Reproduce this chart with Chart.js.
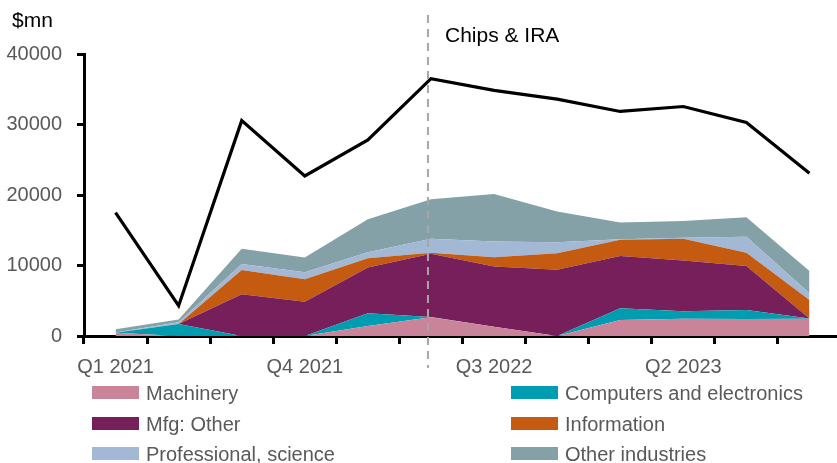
<!DOCTYPE html>
<html>
<head>
<meta charset="utf-8">
<script src="https://cdn.jsdelivr.net/npm/chart.js@4/dist/chart.umd.min.js"></script>
<style>
  html, body { margin: 0; padding: 0; background: #fff; overflow: hidden; }
  #wrap { position: relative; width: 837px; height: 463px; overflow: hidden; font-family: "Liberation Sans", Arial, sans-serif; }
  canvas { position: absolute; left: 0; top: 0; }
  .note { position: absolute; color: #000; white-space: nowrap; line-height: 1; }
  .leg { position: absolute; height: 13px; }
  .leg .box { position: absolute; left: 0; top: 0; width: 47px; height: 13px; }
  .leg .txt { position: absolute; left: 54px; top: 50%; transform: translateY(-50%); font-size: 20px; color: #595959; white-space: nowrap; line-height: 1; }
</style>
</head>
<body>
<div id="wrap">
  <canvas id="c" width="842" height="463"></canvas>
  <div class="note" id="unit" style="left:12px; top:9px; font-size:21px;">$mn</div>
  <div class="note" id="event" style="left:445px; top:24px; font-size:21px;">Chips &amp; IRA</div>
  <div id="legend"></div>
</div>
<script>
// ---- data ----
const quarters = ['Q1 2021','Q2 2021','Q3 2021','Q4 2021','Q1 2022','Q2 2022','Q3 2022','Q4 2022','Q1 2023','Q2 2023','Q3 2023','Q4 2023'];
const shownTickLabels = ['Q1 2021','Q4 2021','Q3 2022','Q2 2023'];

const seriesNames = ['Machinery','Computers and electronics','Mfg: Other','Information','Professional, science','Other industries'];
const machinery    = [450,    0,    0,    0, 1420, 2650, 1320,    0, 2270, 2450, 2400, 2450];
const computers    = [  0, 1700,    0,    0, 1800,   50,    0,    0, 1660, 1050, 1280,   50];
const mfgOther     = [  0,    0, 5920, 4870, 6480, 8950, 8530, 9380, 7430, 7200, 6250,    0];
const information  = [  0,    0, 3450, 3180, 1340,  150, 1330, 2370, 2280, 3100, 1890, 2600];
const professional = [ 50,  250,  860, 1000,  850, 2000, 2220, 1560,  100,  150, 2270,  950];
const otherInd     = [450,  400, 2130, 2070, 4680, 5580, 6730, 4350, 2370, 2350, 2760, 3170];
const totalLine    = [17500, 4300, 30550, 22700, 27800, 36500, 34850, 33600, 31850, 32550, 30300, 23100];

const eventQuarter = 'Q2 2022';
const yTicks = [0, 10000, 20000, 30000, 40000];

// ---- styles ----
const colors = ['#C9849A', '#009DB0', '#761F5B', '#C55A11', '#A2B8D5', '#84A1A7'];
const areaValues = [machinery, computers, mfgOther, information, professional, otherInd];

const datasets = [{
  label: 'Total',
  data: totalLine,
  borderColor: '#000',
  borderWidth: 3.2,
  pointRadius: 0,
  fill: false,
  tension: 0,
  stack: 'line',
  order: -1
}];
areaValues.forEach((vals, i) => {
  datasets.push({
    label: seriesNames[i],
    data: vals,
    backgroundColor: colors[i],
    borderColor: colors[i],
    borderWidth: 0,
    pointRadius: 0,
    tension: 0,
    fill: i === 0 ? 'origin' : '-1',
    stack: 'areas'
  });
});

const eventLine = {
  id: 'eventLine',
  afterDatasetsDraw(chart) {
    const x = chart.scales.x.getPixelForValue(quarters.indexOf(eventQuarter)) - 3;
    const ctx = chart.ctx;
    ctx.save();
    ctx.strokeStyle = '#A6A6A6';
    ctx.lineWidth = 2;
    ctx.setLineDash([8, 6]);
    ctx.beginPath();
    ctx.moveTo(x, 15);
    ctx.lineTo(x, 368);
    ctx.stroke();
    ctx.restore();
  }
};

new Chart(document.getElementById('c'), {
  type: 'line',
  data: { labels: quarters, datasets },
  plugins: [eventLine],
  options: {
    responsive: false,
    animation: false,
    layout: { padding: { top: 54, right: 1, bottom: 0, left: 0 } },
    plugins: { legend: { display: false }, tooltip: { enabled: false } },
    elements: { line: { borderJoinStyle: 'miter' } },
    scales: {
      x: {
        type: 'category',
        offset: true,
        afterFit(scale) { scale.height = 127; },
        grid: { offset: true, drawOnChartArea: false, drawTicks: true, tickLength: 8, color: '#000', lineWidth: 3 },
        border: { display: true, color: '#000', width: 3 },
        ticks: {
          autoSkip: false, maxRotation: 0, minRotation: 0, padding: 11,
          color: '#595959', font: { family: '"Liberation Sans", Arial, sans-serif', size: 20 },
          callback(v, i) { const l = quarters[i]; return shownTickLabels.includes(l) ? l : ''; }
        }
      },
      y: {
        stacked: true,
        min: 0, max: 40000,
        afterFit(scale) { scale.width = 84; },
        afterBuildTicks(scale) { scale.ticks = yTicks.map(v => ({ value: v })); },
        grid: { drawOnChartArea: false, drawTicks: true, tickLength: 7, color: '#000', lineWidth: 3 },
        border: { display: true, color: '#000', width: 3 },
        ticks: {
          padding: 15,
          color: '#595959', font: { family: '"Liberation Sans", Arial, sans-serif', size: 20 },
          callback(v) { return String(v); }
        }
      }
    }
  }
});

// ---- HTML legend ----
const legend = document.getElementById('legend');
const colLeft = [92, 511];
const rowTop = [386, 417, 447];
seriesNames.forEach((name, i) => {
  const item = document.createElement('div');
  item.className = 'leg';
  item.style.left = colLeft[i % 2] + 'px';
  item.style.top = rowTop[Math.floor(i / 2)] + 'px';
  const box = document.createElement('div');
  box.className = 'box';
  box.style.background = colors[i];
  const txt = document.createElement('div');
  txt.className = 'txt';
  txt.textContent = name;
  item.appendChild(box);
  item.appendChild(txt);
  legend.appendChild(item);
});
</script>
</body>
</html>
